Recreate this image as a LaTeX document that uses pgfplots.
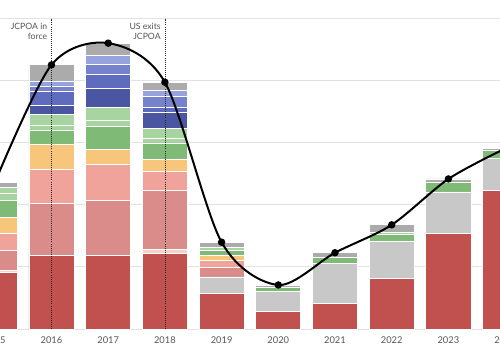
\documentclass[border=0pt]{standalone}
\usepackage{fontspec}
\setmainfont{Lato}
\usepackage{pgfplots}
\pgfplotsset{compat=1.18}
\usepackage{pgfplotstable}
\definecolor{cdr}{HTML}{C1514E}
\definecolor{cth}{HTML}{F3D2CC}
\definecolor{clg}{HTML}{C8C8C8}
\definecolor{cpk}{HTML}{DA8C8A}
\definecolor{csa}{HTML}{F0A39B}
\definecolor{cor}{HTML}{F7C67B}
\definecolor{cmg}{HTML}{7FBB77}
\definecolor{cla}{HTML}{A7D4A0}
\definecolor{cdb}{HTML}{4B56A3}
\definecolor{cmb}{HTML}{5F6CBD}
\definecolor{cbl}{HTML}{7682CC}
\definecolor{clt}{HTML}{98A2DC}
\definecolor{cgy}{HTML}{ABABAB}
\definecolor{gridc}{HTML}{E2E2E2}
\definecolor{labc}{HTML}{555555}

\pgfplotstableread{
x dr th lg pk sa or mg la lb db mb bl lt gy
0 0.91 0.03 0    0.32 0.28 0.26 0.27 0.12 0.09 0    0    0    0    0.08
1 1.19 0    0    0.83 0.56 0.39 0.24 0.07 0.18 0.15 0.22 0.09 0.08 0.26
2 1.19 0    0    0.89 0.57 0.24 0.37 0.11 0.20 0.31 0.22 0.16 0.15 0.20
3 1.22 0.07 0    0.95 0.30 0.19 0.27 0.08 0.16 0.25 0.08 0.18 0.09 0.14
4 0.58 0    0.26 0.15 0.11 0.08 0.08 0.05 0    0    0    0    0    0.09
5 0.28 0    0.32 0    0    0    0.07 0    0    0    0    0    0    0.04
6 0.41 0    0.64 0    0    0    0.11 0    0    0    0    0    0    0.07
7 0.82 0    0.59 0    0    0    0.11 0.03 0    0    0    0    0    0.13
8 1.54 0    0.67 0    0    0    0.15 0    0    0    0    0    0    0.06
9 2.23 0    0.52 0    0    0    0.13 0    0    0    0    0    0    0.03
}\data

\pgfplotstableread{
x total
0 2.36
1 4.26
2 4.61
3 3.98
4 1.40
5 0.71
6 1.23
7 1.68
8 2.42
9 2.91
}\totals

\tikzset{
  yl/.style={anchor=north, font=\fontsize{7}{8}\selectfont, text=labc, inner sep=0pt},
  ann/.style={anchor=north east, align=right, font=\fontsize{6.5}{7.5}\selectfont, text=labc, inner sep=0pt}
}

\begin{document}
\begin{tikzpicture}
\pgfplotsset{
  base/.style={at={(0,0)}, anchor=south west, scale only axis,
    width=375pt, height=246.75pt,
    xmin=0.092, xmax=8.910, ymin=0, ymax=5.306},
  seg/.style={fill=#1, draw=white, line width=0.6pt}
}
\begin{axis}[base,
  ybar stacked, bar width=0.794,
  axis line style={draw=none},
  ytick={0,1,2,3,4,5}, yticklabels={},
  ymajorgrids, major grid style={color=gridc, line width=0.75pt},
  xtick=\empty, major tick length=0pt,
]
\addplot[seg=cdr] table[x=x,y=dr]{\data};
\addplot[seg=cth] table[x=x,y=th]{\data};
\addplot[seg=clg] table[x=x,y=lg]{\data};
\addplot[seg=cpk] table[x=x,y=pk]{\data};
\addplot[seg=csa] table[x=x,y=sa]{\data};
\addplot[seg=cor] table[x=x,y=or]{\data};
\addplot[seg=cmg] table[x=x,y=mg]{\data};
\addplot[seg=cla] table[x=x,y=la]{\data};
\addplot[seg=cla] table[x=x,y=lb]{\data};
\addplot[seg=cdb] table[x=x,y=db]{\data};
\addplot[seg=cmb] table[x=x,y=mb]{\data};
\addplot[seg=cbl] table[x=x,y=bl]{\data};
\addplot[seg=clt] table[x=x,y=lt]{\data};
\addplot[seg=cgy] table[x=x,y=gy]{\data};
\end{axis}
\begin{axis}[base, hide axis, clip mode=individual]
\draw[densely dotted, color=black!85, line width=0.55pt] (axis cs:1,0) -- (axis cs:1,5);
\draw[densely dotted, color=black!85, line width=0.55pt] (axis cs:3,0) -- (axis cs:3,5);
\addplot[smooth, black, line width=1.5pt, mark=*, mark size=2pt, mark options={fill=black}] table[x=x,y=total]{\totals};
\node[ann] at ([xshift=-3pt]axis cs:1,4.93) {JCPOA in\\force};
\node[ann] at ([xshift=-3pt]axis cs:3,4.93) {US exits\\JCPOA};
\node[yl] at ([yshift=-5.5pt]axis cs:0,0) {2015};
\node[yl] at ([yshift=-5.5pt]axis cs:1,0) {2016};
\node[yl] at ([yshift=-5.5pt]axis cs:2,0) {2017};
\node[yl] at ([yshift=-5.5pt]axis cs:3,0) {2018};
\node[yl] at ([yshift=-5.5pt]axis cs:4,0) {2019};
\node[yl] at ([yshift=-5.5pt]axis cs:5,0) {2020};
\node[yl] at ([yshift=-5.5pt]axis cs:6,0) {2021};
\node[yl] at ([yshift=-5.5pt]axis cs:7,0) {2022};
\node[yl] at ([yshift=-5.5pt]axis cs:8,0) {2023};
\node[yl] at ([yshift=-5.5pt]axis cs:9,0) {2024};
\end{axis}
\pgfresetboundingbox
\path[use as bounding box] (0,-15.75pt) rectangle (375pt,246.75pt);
\end{tikzpicture}
\end{document}
